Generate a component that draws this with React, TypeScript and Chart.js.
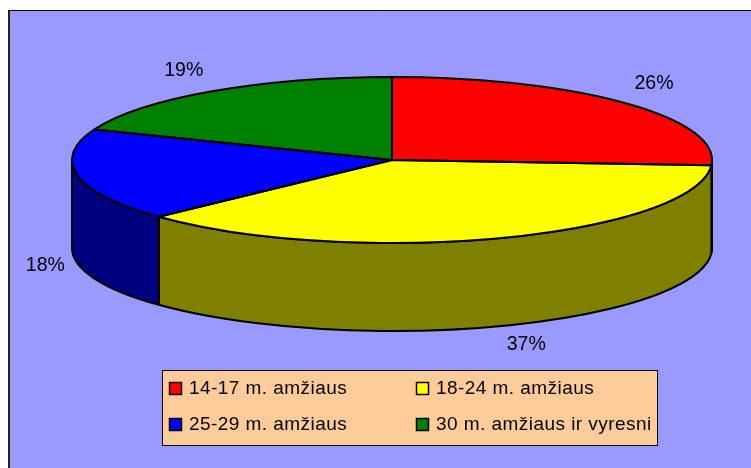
import React, { useEffect, useRef } from "react";
import { Chart, registerables } from "chart.js";

Chart.register(...registerables);

const categories = ["14-17 m. amžiaus", "18-24 m. amžiaus", "25-29 m. amžiaus", "30 m. amžiaus ir vyresni"];
const shares = [26, 37, 18, 19];
const topColors = ["#FF0000", "#FFFF00", "#0000FF", "#008000"];
const sideColors = ["#800000", "#808000", "#000080", "#004000"];

const FONT = '"Liberation Sans", Arial, sans-serif';
const DEPTH = 88;

const piePlugin = {
  id: "tiltedPie",
  beforeDraw(chart: any) {
    const { ctx, width, height } = chart;
    ctx.save();
    ctx.fillStyle = "#FFFFFF";
    ctx.fillRect(0, 0, width, height);
    ctx.fillStyle = "#9999FF";
    ctx.fillRect(9, 10, width - 9, height - 10);
    ctx.strokeStyle = "#222222";
    ctx.lineWidth = 2;
    ctx.beginPath();
    ctx.moveTo(9, height);
    ctx.lineTo(9, 10.5);
    ctx.stroke();
    ctx.lineWidth = 1;
    ctx.strokeStyle = "#000000";
    ctx.beginPath();
    ctx.moveTo(8, 10.5);
    ctx.lineTo(width, 10.5);
    ctx.stroke();
    ctx.restore();
  },
  beforeDatasetsDraw(chart: any) {
    const { ctx, chartArea } = chart;
    const arcs = chart.getDatasetMeta(0).data;
    const cx = (chartArea.left + chartArea.right) / 2;
    const cy = (chartArea.top + chartArea.bottom) / 2;
    const rx = chartArea.width / 2;
    const ry = chartArea.height / 2;
    ctx.save();
    ctx.lineWidth = 2;
    ctx.strokeStyle = "#000000";
    ctx.lineJoin = "round";
    arcs.forEach((arc: any, i: number) => {
      const { startAngle, endAngle } = arc.getProps(["startAngle", "endAngle"], true);
      const a0 = Math.max(startAngle, 0);
      const a1 = Math.min(endAngle, Math.PI);
      if (a1 <= a0) return;
      ctx.beginPath();
      ctx.ellipse(cx, cy, rx, ry, 0, a0, a1, false);
      ctx.ellipse(cx, cy + DEPTH, rx, ry, 0, a1, a0, true);
      ctx.closePath();
      ctx.fillStyle = sideColors[i];
      ctx.fill();
      ctx.stroke();
    });
    ctx.restore();
    ctx.save();
    ctx.translate(cx, cy);
    ctx.scale(rx / ry, 1);
    ctx.translate(-cx, -cy);
  },
  afterDatasetsDraw(chart: any) {
    const { ctx, chartArea } = chart;
    ctx.restore();
    const arcs = chart.getDatasetMeta(0).data;
    const cx = (chartArea.left + chartArea.right) / 2;
    const cy = (chartArea.top + chartArea.bottom) / 2;
    const rx = chartArea.width / 2;
    const ry = chartArea.height / 2;
    ctx.save();
    ctx.lineWidth = 2;
    ctx.strokeStyle = "#000000";
    ctx.lineJoin = "round";
    arcs.forEach((arc: any) => {
      const { startAngle, endAngle } = arc.getProps(["startAngle", "endAngle"], true);
      ctx.beginPath();
      ctx.moveTo(cx, cy);
      ctx.ellipse(cx, cy, rx, ry, 0, startAngle, endAngle, false);
      ctx.closePath();
      ctx.stroke();
    });
    ctx.restore();

    // value labels, placed outside the tilted rim on each slice's mid angle
    const nudgeX = [1, 13, 5, -7];
    const nudgeY = [-2, -6, -3, 1];
    ctx.save();
    ctx.font = `19.5px ${FONT}`;
    ctx.fillStyle = "#000000";
    ctx.textAlign = "center";
    ctx.textBaseline = "middle";
    arcs.forEach((arc: any, i: number) => {
      const { startAngle, endAngle } = arc.getProps(["startAngle", "endAngle"], true);
      const mid = (startAngle + endAngle) / 2;
      const x = cx + (rx + 38) * Math.cos(mid) + nudgeX[i];
      const s = Math.sin(mid);
      const y = cy + (ry + 26) * s + (s > 0 ? DEPTH : 0) + nudgeY[i];
      ctx.fillText(`${shares[i]}%`, x, y);
    });
    ctx.restore();
  },
  afterDraw(chart: any) {
    const { ctx } = chart;
    const labels: string[] = chart.data.labels;
    ctx.save();
    // legend frame
    ctx.fillStyle = "#FFCC99";
    ctx.fillRect(162.5, 370.5, 495, 75);
    ctx.strokeStyle = "#000000";
    ctx.lineWidth = 1;
    ctx.strokeRect(162.5, 370.5, 495, 75);
    const colX = [169, 416];
    const rowY = [382, 418];
    ctx.font = `19px ${FONT}`;
    (ctx as any).letterSpacing = "0.45px";
    ctx.textBaseline = "middle";
    ctx.textAlign = "left";
    labels.forEach((label, i) => {
      const x = colX[i % 2];
      const y = rowY[Math.floor(i / 2)];
      ctx.fillStyle = topColors[i];
      ctx.fillRect(x + 0.5, y + 0.5, 12, 12);
      ctx.strokeStyle = "#000000";
      ctx.lineWidth = 1.5;
      ctx.strokeRect(x + 0.5, y + 0.5, 12, 12);
      ctx.fillStyle = "#000000";
      ctx.fillText(label, x + 20, y + 6.5);
    });
    ctx.restore();
  },
};

export default function App() {
  const ref = useRef<HTMLCanvasElement>(null);
  useEffect(() => {
    const chart = new Chart(ref.current as HTMLCanvasElement, {
      type: "pie",
      data: {
        labels: categories,
        datasets: [
          {
            data: shares,
            backgroundColor: topColors,
            borderWidth: 0,
            clip: false,
          } as any,
        ],
      },
      options: {
        animation: false,
        responsive: false,
        maintainAspectRatio: false,
        layout: { padding: { left: 72, right: 39, top: 77, bottom: 225 } },
        plugins: { legend: { display: false }, tooltip: { enabled: false }, title: { display: false } },
      },
      plugins: [piePlugin],
    });
    return () => chart.destroy();
  }, []);
  return (
    <div style={{ position: "fixed", left: 0, top: 0, width: 751, height: 468 }}>
      <canvas ref={ref} width={751} height={468} style={{ display: "block", width: 751, height: 468 }} />
    </div>
  );
}
